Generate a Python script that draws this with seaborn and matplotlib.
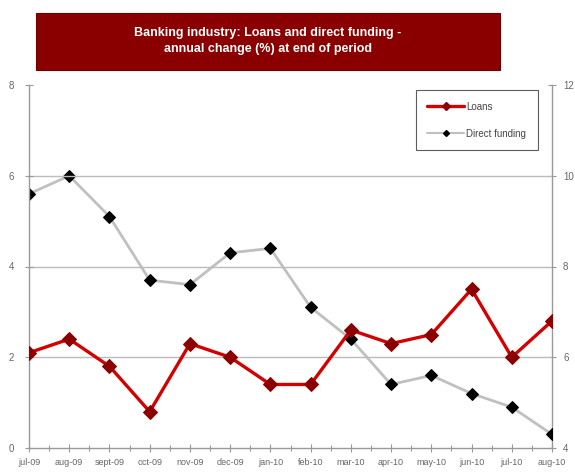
import matplotlib
matplotlib.use("Agg")
import matplotlib.pyplot as plt
import seaborn as sns
import pandas as pd
from matplotlib.patches import Rectangle
from matplotlib.lines import Line2D
from matplotlib.ticker import MultipleLocator

months = ["jul-09", "aug-09", "sept-09", "oct-09", "nov-09", "dec-09", "jan-10",
          "feb-10", "mar-10", "apr-10", "may-10", "jun-10", "jul-10", "aug-10"]
loans = [2.1, 2.4, 1.8, 0.8, 2.3, 2.0, 1.4, 1.4, 2.6, 2.3, 2.5, 3.5, 2.0, 2.8]
direct_funding = [9.6, 10.0, 9.1, 7.7, 7.6, 8.3, 8.4, 7.1, 6.4, 5.4, 5.6, 5.2, 4.9, 4.3]
left_ticks = [0, 2, 4, 6, 8]
right_ticks = [4, 6, 8, 10, 12]
title_lines = ["Banking industry: Loans and direct funding -",
               "annual change (%) at end of period"]

df = pd.DataFrame({"month": months, "loans": loans, "direct": direct_funding})
df["pos"] = range(len(df))

sns.set_style("white")
plt.rcParams["font.family"] = ["Liberation Sans", "DejaVu Sans"]

fig = plt.figure(figsize=(5.75, 4.76), dpi=100)
ax = fig.add_axes([29 / 575, 1 - 448 / 476, (552 - 29) / 575, (448 - 85) / 476])
ax2 = ax.twinx()

tick_color = "#666666"
axis_color = "#999999"

# horizontal gridlines on the left scale
for y in left_ticks[1:-1]:
    ax.axhline(y, color="#bbbbbb", lw=1.0, zorder=0)

# direct funding on the right scale
sns.lineplot(data=df, x="pos", y="direct", ax=ax2, color="#c0c0c0", lw=2.0,
             marker="D", markersize=6.5, markerfacecolor="black",
             markeredgecolor="black", zorder=3)
# loans on the left scale, drawn above
ax.set_zorder(ax2.get_zorder() + 1)
ax.patch.set_visible(False)
sns.lineplot(data=df, x="pos", y="loans", ax=ax, color="#d40000", lw=2.4,
             marker="D", markersize=7, markerfacecolor="#8b0000",
             markeredgecolor="#8b0000", zorder=4)

ax.set_ylim(0, 8)
ax2.set_ylim(4, 12)
ax.set_xlim(0, len(months) - 1)
ax.set_yticks(left_ticks)
ax2.set_yticks(right_ticks)
ax.set_xticks(df["pos"])
ax.set_xticklabels(months)
ax.xaxis.set_minor_locator(MultipleLocator(0.5))

for a in (ax, ax2):
    a.set_xlabel("")
    a.set_ylabel("")
    for s in a.spines.values():
        s.set_visible(False)
ax.spines["left"].set_visible(True)
ax.spines["bottom"].set_visible(True)
ax2.spines["right"].set_visible(True)
for s in (ax.spines["left"], ax.spines["bottom"], ax2.spines["right"]):
    s.set_color(axis_color)
    s.set_linewidth(1.0)

ax.tick_params(axis="y", which="both", direction="inout", length=6, width=0.8,
               color=axis_color, labelsize=7, labelcolor=tick_color, pad=8, left=True)
ax2.tick_params(axis="y", which="both", direction="inout", length=6, width=0.8,
                color=axis_color, labelsize=7, labelcolor=tick_color, pad=5, right=True)
ax.tick_params(axis="x", which="major", direction="inout", length=6, width=0.8,
               color=axis_color, labelsize=6.5, labelcolor=tick_color, pad=4, bottom=True)
ax.tick_params(axis="x", which="minor", direction="inout", length=5, width=0.8,
               color=axis_color, bottom=True)

# legend
handles = [
    Line2D([], [], color="#d40000", lw=2.4, marker="D", markersize=4,
           markerfacecolor="#8b0000", markeredgecolor="#8b0000"),
    Line2D([], [], color="#c0c0c0", lw=1.5, marker="D", markersize=3,
           markerfacecolor="black", markeredgecolor="black"),
]
leg = ax.legend(handles, ["Loans", "Direct funding"], loc="upper right",
                bbox_to_anchor=(0.973, 0.986), frameon=True, fancybox=False,
                fontsize=7, labelspacing=1.75, handlelength=3.8, handletextpad=0.2,
                borderpad=1.2, borderaxespad=0.0)
leg.get_frame().set_edgecolor("#333333")
leg.get_frame().set_linewidth(0.8)
for t in leg.get_texts():
    t.set_color("#444444")

# title banner
fig.patches.append(Rectangle((36 / 575, 1 - 70 / 476), (500 - 36) / 575, 57 / 476,
                             transform=fig.transFigure, facecolor="#8a0000",
                             edgecolor="#6a0000", lw=0.8, zorder=1))
fig.text(268 / 575, 1 - 41 / 476, "\n".join(title_lines), ha="center", va="center",
         color="white", fontsize=9, fontweight="bold", linespacing=1.35, zorder=2)

fig.savefig("out.png", dpi=100)
